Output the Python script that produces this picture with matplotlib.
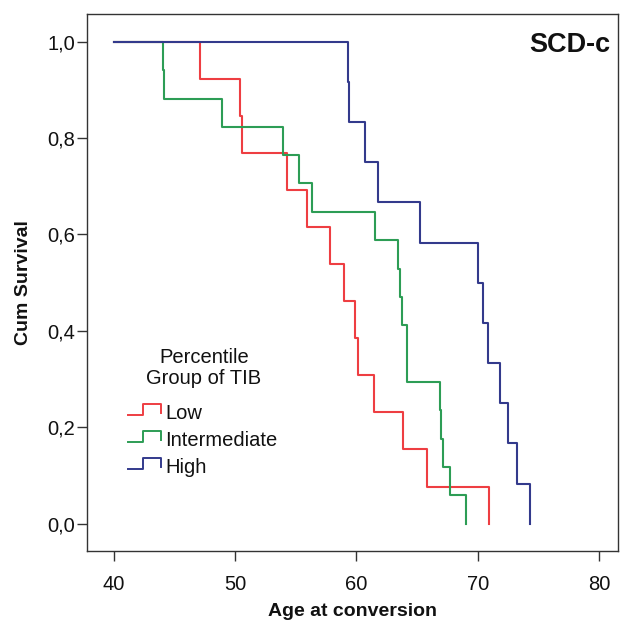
import matplotlib
matplotlib.use("Agg")
import matplotlib.pyplot as plt
from matplotlib.lines import Line2D

plt.rcParams['font.family'] = ['Liberation Sans', 'DejaVu Sans']

# Kaplan-Meier curves (age at event, cum survival after it)
low_age = [40, 47.1, 50.37, 50.56, 54.27, 55.9, 57.78, 59.0, 59.9, 60.14, 61.42, 63.8, 65.8, 70.9]
low_surv = [1.0, 0.923, 0.846, 0.769, 0.692, 0.615, 0.538, 0.462, 0.385, 0.308, 0.231, 0.154, 0.077, 0.0]

mid_age = [40, 44.05, 44.15, 48.9, 53.94, 55.25, 56.35, 61.54, 63.46, 63.6, 63.76, 64.14, 66.9, 67.0, 67.1, 67.74, 69.0]
mid_surv = [1.0, 0.941, 0.882, 0.824, 0.765, 0.706, 0.647, 0.588, 0.529, 0.471, 0.412, 0.294, 0.235, 0.176, 0.118, 0.059, 0.0]

high_age = [40, 59.3, 59.4, 60.74, 61.81, 65.24, 70.04, 70.45, 70.8, 71.8, 72.5, 73.2, 74.3]
high_surv = [1.0, 0.917, 0.833, 0.75, 0.667, 0.583, 0.5, 0.417, 0.333, 0.25, 0.167, 0.083, 0.0]

group_names = ['Low', 'Intermediate', 'High']
group_colors = ['#ee3e42', '#2d9d55', '#333a8c']

x_ticks = [40, 50, 60, 70, 80]
y_ticks = [0.0, 0.2, 0.4, 0.6, 0.8, 1.0]
y_tick_labels = ['0,0', '0,2', '0,4', '0,6', '0,8', '1,0']

W, H = 627, 621
fig = plt.figure(figsize=(W / 100, H / 100), dpi=100)


def px(x, y):
    # pixel position (from top-left) -> figure fraction
    return x / W, 1 - y / H


left, top = px(86.7, 14.3)
right, bottom = px(618, 550.7)
ax = fig.add_axes([left, bottom, right - left, top - bottom])

curves = [(low_age, low_surv), (mid_age, mid_surv), (high_age, high_surv)]
for (age, surv), color in zip(curves, group_colors):
    ax.step(age, surv, where='post', color=color, linewidth=1.5)

ax.set_xlim(37.78, 81.54)
ax.set_ylim(-0.056, 1.0568)
ax.set_xticks(x_ticks)
ax.set_xticklabels([str(t) for t in x_ticks])
ax.set_yticks(y_ticks)
ax.set_yticklabels(y_tick_labels)

for s in ax.spines.values():
    s.set_color('#333333')
    s.set_linewidth(1.0)
ax.tick_params(axis='both', direction='out', length=7.5, width=1.0,
               color='#333333', labelsize=14.5, labelcolor='#111111')
ax.tick_params(axis='x', pad=10)
ax.tick_params(axis='y', pad=1)

# axis titles
fig.text(*px(352, 616.5), 'Age at conversion', ha='center', va='baseline',
         fontsize=14, fontweight='bold', color='#111111')
fig.text(*px(23.5, 283), 'Cum Survival', ha='center', va='center', rotation=90,
         fontsize=14, fontweight='bold', color='#111111')

# panel tag
fig.text(*px(610, 51.7), 'SCD-c', ha='right', va='baseline',
         fontsize=19.5, fontweight='bold', color='#111111')

# legend drawn by hand, SPSS style
fig.text(*px(204, 362.7), 'Percentile', ha='center', va='baseline',
         fontsize=14.5, color='#111111')
fig.text(*px(204, 383.5), 'Group of TIB', ha='center', va='baseline',
         fontsize=14.5, color='#111111')
for i, (name, color) in enumerate(zip(group_names, group_colors)):
    base = 419.3 + i * 27
    pts = [px(128.3, base - 4.3), px(143.3, base - 4.3), px(143.3, base - 15),
           px(160.7, base - 15), px(160.7, base - 6.6)]
    fig.add_artist(Line2D([p[0] for p in pts], [p[1] for p in pts],
                          color=color, linewidth=1.4, transform=fig.transFigure))
    fig.text(*px(165, base), name, ha='left', va='baseline',
             fontsize=14.5, color='#111111')

fig.savefig('out.png', dpi=100)
